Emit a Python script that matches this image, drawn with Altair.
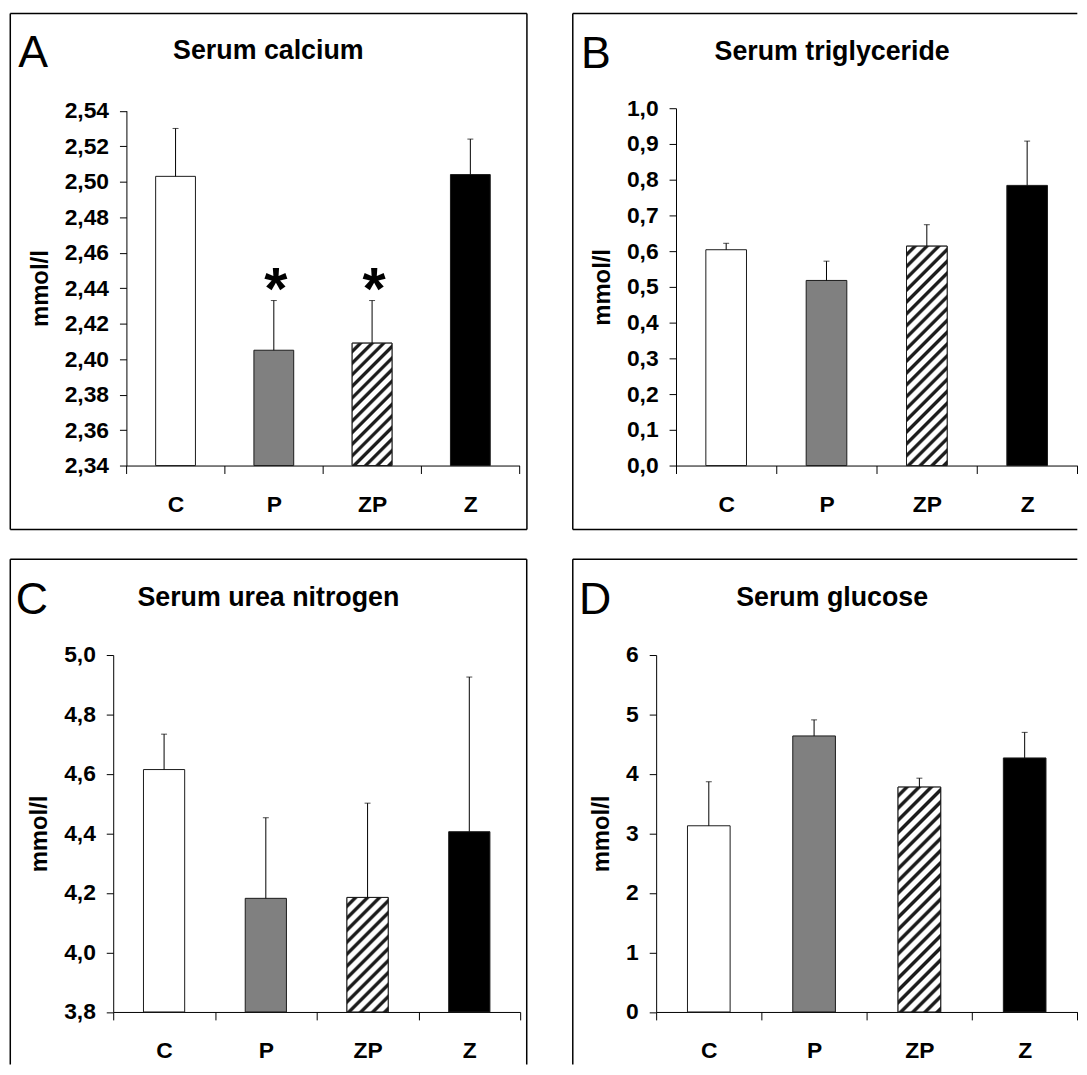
import altair as alt
import pandas as pd

# ---------------- data ----------------
groups = ["C", "P", "ZP", "Z"]

calcium_mean = [2.503, 2.405, 2.409, 2.504]
calcium_upper = [2.530, 2.433, 2.433, 2.524]
calcium_sig = ["", "*", "*", ""]
calcium_ticks = [2.34, 2.36, 2.38, 2.40, 2.42, 2.44, 2.46, 2.48, 2.50, 2.52, 2.54]

trig_mean = [0.604, 0.518, 0.614, 0.784]
trig_upper = [0.622, 0.572, 0.674, 0.908]
trig_ticks = [0.0, 0.1, 0.2, 0.3, 0.4, 0.5, 0.6, 0.7, 0.8, 0.9, 1.0]

urea_mean = [4.615, 4.182, 4.185, 4.406]
urea_upper = [4.734, 4.453, 4.502, 4.926]
urea_ticks = [3.8, 4.0, 4.2, 4.4, 4.6, 4.8, 5.0]

glucose_mean = [3.13, 4.64, 3.78, 4.27]
glucose_upper = [3.87, 4.91, 3.93, 4.70]
glucose_ticks = [0, 1, 2, 3, 4, 5, 6]

titles = ["Serum calcium", "Serum triglyceride", "Serum urea nitrogen", "Serum glucose"]
letters = ["A", "B", "C", "D"]
unit = "mmol/l"
bar_colors = ["white", "#808080", "white", "black"]

# ---------------- style ----------------
FONT = "Liberation Sans"
BAR = 0.405
dummy = pd.DataFrame({"d": [0]})


def hatch(w, h, period=12.0, dark="#1c1c1c"):
    k = h / w
    a = (1 + k) / (1 + k * k)
    b = a * k
    n = max(1, int(round((w + h) / period)))
    stops = []
    for i in range(n):
        s = i / n
        stops += [
            {"offset": round(s, 6), "color": "white"},
            {"offset": round(s + 0.45 / n, 6), "color": "white"},
            {"offset": round(s + 0.60 / n, 6), "color": dark},
            {"offset": round(s + 0.85 / n, 6), "color": dark},
        ]
    stops.append({"offset": 1.0, "color": "white"})
    return {"gradient": "linear", "x1": 0, "y1": 0, "x2": a, "y2": b, "stops": stops}


def rule(x1, x2, y1, y2):
    return alt.Chart(dummy).mark_rule(color="black", strokeWidth=1.5).encode(
        x=alt.value(x1), x2=alt.value(x2), y=alt.value(y1), y2=alt.value(y2)
    )


def panel(letter, title, mean, upper, ticks, decimals, sig, W, H, xr, yr, yoff,
          edges, title_xy, letter_xy):
    dmin, dmax = ticks[0], ticks[-1]
    df = pd.DataFrame({
        "group": groups, "mean": mean, "upper": upper,
        "sig": sig if sig else [""] * len(groups),
    })
    xs = alt.Scale(domain=groups, range=xr, paddingInner=0, paddingOuter=0)
    ys = alt.Scale(domain=[dmin, dmax], range=yr, nice=False, zero=False)
    if decimals:
        expr = f"replace(format(datum.value, '.{decimals}f'), '.', ',')"
    else:
        expr = "format(datum.value, 'd')"
    xaxis = alt.Axis(
        title=None, labelAngle=0, tickBand="extent", tickSize=8, labelPadding=20,
        labelFont=FONT, labelFontSize=23, labelFontWeight="bold", labelColor="black",
        domainColor="black", tickColor="black", domainWidth=1, tickWidth=1, grid=False,
    )
    yaxis = alt.Axis(
        values=ticks, labelExpr=expr, title=unit, offset=yoff, tickSize=7,
        labelPadding=11, titlePadding=12, grid=False,
        labelFont=FONT, labelFontSize=23, labelFontWeight="bold", labelColor="black",
        titleFont=FONT, titleFontSize=24, titleFontWeight="bold", titleColor="black",
        domainColor="black", tickColor="black", domainWidth=1, tickWidth=1,
    )
    x = alt.X("group:N", scale=xs, axis=xaxis)
    base = alt.Chart(df)

    bars = base.mark_bar(width=alt.RelativeBandSize(BAR), stroke="#1a1a1a", strokeWidth=1).encode(
        x=x,
        y=alt.Y("mean:Q", scale=ys, axis=yaxis),
        y2=alt.Y2(datum=dmin),
        fill=alt.Fill("group:N", scale=alt.Scale(domain=groups, range=bar_colors), legend=None),
    )

    step = (xr[1] - xr[0]) / len(groups)
    w = BAR * step
    zp_val = mean[groups.index("ZP")]
    h = (zp_val - dmin) / (dmax - dmin) * abs(yr[0] - yr[1])
    zp = base.transform_filter(alt.datum.group == "ZP").mark_bar(
        width=alt.RelativeBandSize(BAR), fill=hatch(w, h), stroke="#1a1a1a", strokeWidth=1
    ).encode(x=x, y=alt.Y("mean:Q", scale=ys, axis=yaxis), y2=alt.Y2(datum=dmin))

    err = base.mark_rule(color="black", strokeWidth=1).encode(
        x=x, y=alt.Y("mean:Q", scale=ys, axis=yaxis), y2="upper:Q"
    )
    cap = base.mark_tick(color="black", size=6, thickness=1).encode(
        x=x, y=alt.Y("upper:Q", scale=ys, axis=yaxis)
    )
    layers = [bars, zp, err, cap]
    if sig:
        stars = base.mark_text(
            font=FONT, fontSize=60, fontWeight="bold", color="black",
            align="center", baseline="alphabetic", dy=9, dx=2,
        ).encode(x=x, y=alt.Y("upper:Q", scale=ys, axis=yaxis), text="sig:N")
        layers.append(stars)

    for e in edges:
        layers.append(rule(*e))

    layers.append(alt.Chart(dummy).mark_text(
        text=title, font=FONT, fontSize=27, fontWeight="bold", color="black",
        align="center", baseline="alphabetic",
    ).encode(x=alt.value(title_xy[0]), y=alt.value(title_xy[1])))
    layers.append(alt.Chart(dummy).mark_text(
        text=letter, font=FONT, fontSize=45, color="black",
        align="left", baseline="alphabetic",
    ).encode(x=alt.value(letter_xy[0]), y=alt.value(letter_xy[1])))

    return alt.layer(*layers).properties(width=W, height=H)


W1, W2 = 410, 424.3
H1, H2 = 360, 359.6
BOTTOM = 412.6  # lower end of the clipped box sides in row 2

pA = panel(letters[0], titles[0], calcium_mean, calcium_upper, calcium_ticks, 2, calcium_sig,
           W1, H1, [13.3, 409.3], [360, 2.5], -13.3,
           [(-103.7, -103.7, -95.5, 424.5), (416.8, 416.8, -95.5, 424.5),
            (-103.7, 416.8, -95.5, -95.5), (-103.7, 416.8, 424.5, 424.5)],
           (156.3, -49.5), (-95.7, -41.5))

pB = panel(letters[1], titles[1], trig_mean, trig_upper, trig_ticks, 1, None,
           W2, H1, [20, 424.3], [360, 0], -20,
           [(-84, -84, -95.5, 424.5), (-84, 424.3, -95.5, -95.5), (-84, 424.3, 424.5, 424.5)],
           (177.3, -48.5), (-75.7, -40.5))

pC = panel(letters[2], titles[2], urea_mean, urea_upper, urea_ticks, 1, None,
           W1, H2, [0, 410], [359.6, 0], 0,
           [(-103.7, -103.7, -96.6, BOTTOM), (416.6, 416.6, -96.6, BOTTOM),
            (-103.7, 416.6, -96.6, -96.6)],
           (156.3, -49.7), (-98.2, -41.4))

pD = panel(letters[3], titles[3], glucose_mean, glucose_upper, glucose_ticks, 0, None,
           W2, H2, [0, 424.3], [359.6, 0], 0,
           [(-84, -84, -96.6, BOTTOM), (-84, 424.3, -96.6, -96.6)],
           (177.3, -49.7), (-77.7, -41.0))

chart = alt.concat(
    pA, pB, pC, pD, columns=2,
    spacing={"row": 190.9, "column": 137},
    bounds="flush", align="each",
).properties(
    padding={"left": 1, "top": 0, "right": 0, "bottom": 0},
    background="white",
).configure_view(stroke=None)

chart.save("out.html", embed_options={"renderer": "svg", "actions": False})
